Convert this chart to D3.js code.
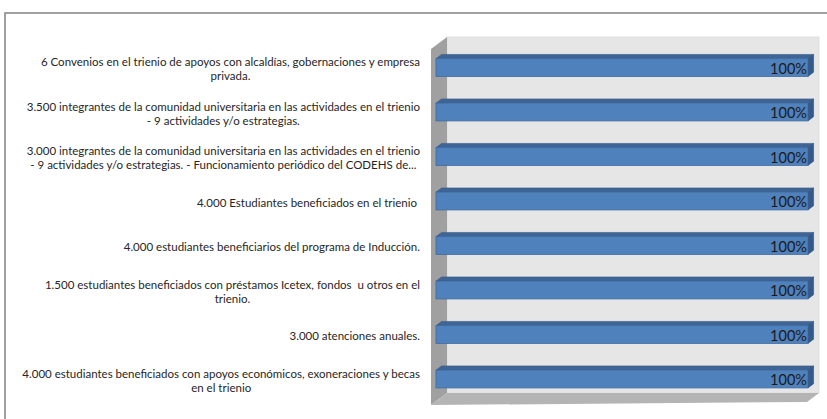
<!DOCTYPE html>
<html>
<head>
<meta charset="utf-8">
<script src="https://cdn.jsdelivr.net/npm/d3@7"></script>
<style>
  html, body { margin: 0; padding: 0; background: #fff; }
  svg { display: block; }
  text { white-space: pre; }
</style>
</head>
<body>
<svg id="chart" width="827" height="419"></svg>
<script>
// categories, top to bottom, already split in lines like the original
var categories = [
  ["6 Convenios en el trienio de apoyos con alcaldías, gobernaciones y empresa", "privada."],
  ["3.500 integrantes de la comunidad universitaria en las actividades en el trienio", "- 9 actividades y/o estrategias."],
  ["3.000 integrantes de la comunidad universitaria en las actividades en el trienio", "- 9 actividades y/o estrategias. - Funcionamiento periódico del CODEHS de..."],
  ["4.000 Estudiantes beneficiados en el trienio "],
  ["4.000 estudiantes beneficiarios del programa de Inducción."],
  ["1.500 estudiantes beneficiados con préstamos Icetex, fondos  u otros en el", "trienio."],
  ["3.000 atenciones anuales."],
  ["4.000 estudiantes beneficiados con apoyos económicos, exoneraciones y becas", "en el trienio"]
];
var values = [1, 1, 1, 1, 1, 1, 1, 1];

var svg = d3.select("#chart");

// outer chart frame
svg.append("rect")
  .attr("x", 5).attr("y", 13).attr("width", 840).attr("height", 430)
  .attr("fill", "#fff").attr("stroke", "#8a8a8a").attr("stroke-width", 1.6);

// back wall coordinates, depth offset towards the viewer
var wall = { left: 447, right: 819, top: 37, bottom: 393 };
var depth = { dx: -16, dy: 12 };

var x = d3.scaleLinear().domain([0, 1]).range([wall.left, wall.right]);
var y = d3.scaleBand()
  .domain(d3.range(categories.length))
  .range([wall.top, wall.bottom])
  .paddingInner(0.6)
  .paddingOuter(0.3);

function shift(p, t) { return [p[0] + depth.dx * t, p[1] + depth.dy * t]; }
function poly(pts) { return pts.map(function (p) { return p.join(","); }).join(" "); }

var g = svg.append("g");

// back wall
g.append("rect")
  .attr("x", wall.left).attr("y", wall.top)
  .attr("width", wall.right - wall.left).attr("height", wall.bottom - wall.top)
  .attr("fill", "#e6e6e6").attr("stroke", "#d9d9d9").attr("stroke-width", 0.8);

// side wall
g.append("polygon")
  .attr("points", poly([
    shift([wall.left, wall.top], 1), [wall.left, wall.top],
    [wall.left, wall.bottom], shift([wall.left, wall.bottom], 1)
  ]))
  .attr("fill", "#a0a0a0");

// floor
g.append("polygon")
  .attr("points", poly([
    [wall.left, wall.bottom], [wall.right, wall.bottom],
    shift([wall.right, wall.bottom], 0.75), shift([wall.left, wall.bottom], 1)
  ]))
  .attr("fill", "#b4b4b4");

// bars (front face at t1, back face at t0)
var t0 = 0.34, t1 = 0.69;
var bars = g.selectAll("g.bar")
  .data(values)
  .enter().append("g").attr("class", "bar");

bars.each(function (d, i) {
  var sel = d3.select(this);
  var x0 = x(0), x1 = x(d), yt = y(i), yb = y(i) + y.bandwidth();
  var fl = shift([x0, yt], t1), fr = shift([x1, yt], t1),
      fbr = shift([x1, yb], t1), fbl = shift([x0, yb], t1);
  var bl = shift([x0, yt], t0), br = shift([x1, yt], t0), bbr = shift([x1, yb], t0);

  // top face
  sel.append("polygon")
    .attr("points", poly([bl, br, fr, fl]))
    .attr("fill", "#3e6595").attr("stroke", "#37598a").attr("stroke-width", 0.6);
  // right face
  sel.append("polygon")
    .attr("points", poly([fr, br, bbr, fbr]))
    .attr("fill", "#355a87").attr("stroke", "#2f5180").attr("stroke-width", 0.6);
  // front face
  sel.append("rect")
    .attr("x", fl[0]).attr("y", fl[1])
    .attr("width", fr[0] - fl[0]).attr("height", fbl[1] - fl[1])
    .attr("fill", "#4f81bd").attr("stroke", "#3f6b9f").attr("stroke-width", 0.8);

  // value label
  sel.append("text")
    .attr("x", fr[0] - 1)
    .attr("y", (fl[1] + fbl[1]) / 2 + 1)
    .attr("dy", "0.35em")
    .attr("text-anchor", "end")
    .attr("font-family", "Lato, 'Open Sans', sans-serif")
    .attr("font-size", 14.5)
    .attr("fill", "#1a1a1a")
    .text(d3.format(".0%")(d));
});

// category labels: block right-aligned at labelRight, lines centred in block
var labelRight = 420, lineH = 14;
var labels = svg.append("g")
  .attr("font-family", "Lato, 'Open Sans', sans-serif")
  .attr("font-size", 11.5)
  .attr("fill", "#262626");

categories.forEach(function (lines, i) {
  var cy = y(i) + y.bandwidth() / 2 + depth.dy * (t0 + t1) / 2 + 4;
  var lab = labels.append("g");
  var texts = lines.map(function (s, k) {
    return lab.append("text")
      .attr("y", cy + (k - (lines.length - 1) / 2) * lineH)
      .attr("dy", "0.35em")
      .attr("text-anchor", "middle")
      .text(s);
  });
  var w = d3.max(texts, function (t) { return t.node().getComputedTextLength(); });
  texts.forEach(function (t) { t.attr("x", labelRight - w / 2); });
});
</script>
</body>
</html>
